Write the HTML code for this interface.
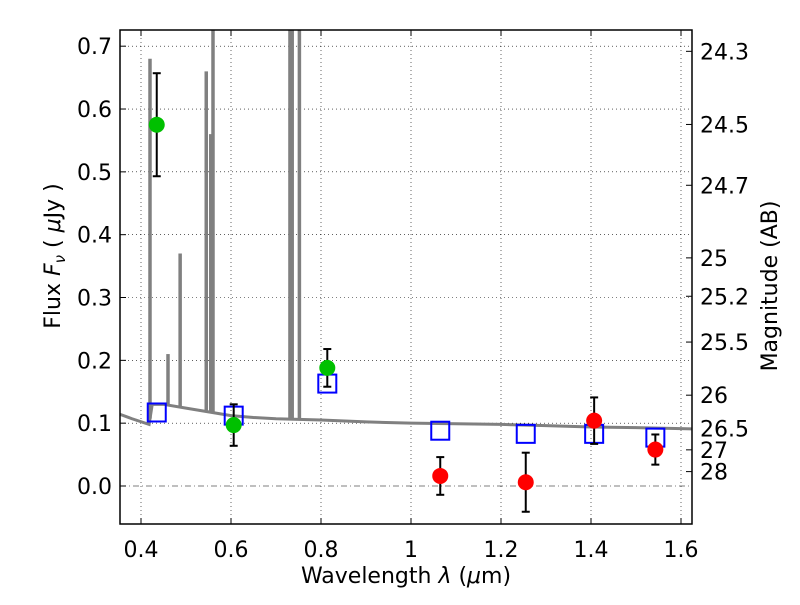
<!DOCTYPE html>
<html><head><meta charset="utf-8"><style>
body{margin:0;background:#fff;}
svg text{font-family:"DejaVu Sans","Liberation Sans",sans-serif;}
</style></head><body>
<svg id="c" width="800" height="600" xmlns="http://www.w3.org/2000/svg"></svg>
<script>
const xTicks=[0.4,0.6,0.8,1.0,1.2,1.4,1.6];
const xTickLabels=["0.4","0.6","0.8","1","1.2","1.4","1.6"];
const yTicks=[0,0.1,0.2,0.3,0.4,0.5,0.6,0.7];
const yTickLabels=["0.0","0.1","0.2","0.3","0.4","0.5","0.6","0.7"];
const magTicks=[24.3,24.5,24.7,25,25.2,25.5,26,26.5,27,28];
const greenX=[0.435,0.606,0.814];
const greenY=[0.575,0.097,0.188];
const greenErr=[0.082,0.033,0.030];
const redX=[1.065,1.255,1.407,1.543];
const redY=[0.016,0.006,0.104,0.058];
const redErr=[0.030,0.047,0.037,0.024];
const modelX=[0.435,0.606,0.814,1.065,1.255,1.407,1.543];
const modelY=[0.117,0.112,0.163,0.088,0.083,0.083,0.077];
const contX=[0.35,0.38,0.418,0.425,0.45,0.5,0.55,0.6,0.65,0.7,0.8,0.9,1.0,1.1,1.2,1.3,1.4,1.5,1.625];
const contY=[0.115,0.107,0.098,0.13,0.13,0.124,0.118,0.112,0.109,0.107,0.105,0.102,0.1,0.099,0.098,0.096,0.094,0.093,0.091];
const lineX=[0.42,0.46,0.487,0.545,0.555,0.56,0.731,0.736,0.752];
const lineY=[0.68,0.21,0.37,0.66,0.56,0.8,0.8,0.8,0.8];

const L=120,R=692,T=30,B=524;
const X=v=>411+(v-1.0)*450;
const Y=v=>486-v*628.3;
const s=document.getElementById('c');
function el(t,a,p){const e=document.createElementNS('http://www.w3.org/2000/svg',t);for(const k in a)e.setAttribute(k,a[k]);(p||s).appendChild(e);return e;}
const clip=el('clipPath',{id:'pc'});el('rect',{x:L,y:T,width:R-L,height:B-T},clip);
xTicks.forEach((v,i)=>{const g=el('line',{x1:X(v),x2:X(v),y1:T,y2:B,stroke:'#000','stroke-width':0.6,'stroke-dasharray':'1,3'});

const t=el('text',{x:X(v),y:557,'font-size':22,'text-anchor':'middle'});t.textContent=xTickLabels[i];

el('line',{x1:X(v),x2:X(v),y1:B,y2:B-6,stroke:'#000'});el('line',{x1:X(v),x2:X(v),y1:T,y2:T+6,stroke:'#000'});});
yTicks.forEach((v,i)=>{const g=el('line',{x1:L,x2:R,y1:Y(v),y2:Y(v),stroke:'#000','stroke-width':0.6,'stroke-dasharray':v===0?'6,3,1,3':'1,3'});

const t=el('text',{x:112,y:Y(v)+8,'font-size':22,'text-anchor':'end'});t.textContent=yTickLabels[i];

el('line',{x1:L,x2:L+6,y1:Y(v),y2:Y(v),stroke:'#000'});});
magTicks.forEach(m=>{const f=Math.pow(10,(23.9-m)/2.5);const y=Y(f);
el('line',{x1:R-6,x2:R,y1:y,y2:y,stroke:'#000'});
const t=el('text',{x:700,y:y+8,'font-size':22});t.textContent=String(m);
});
const g=el('g',{'clip-path':'url(#pc)'});
let d='';contX.forEach((v,i)=>{d+=(i?'L':'M')+X(v)+','+Y(contY[i]);});
const sp=el('path',{d:d,fill:'none',stroke:'#808080','stroke-width':3},g);

lineX.forEach((v,i)=>{let b=0;for(let k=0;k<contX.length-1;k++)if(v>=contX[k]&&v<=contX[k+1])b=contY[k]+(contY[k+1]-contY[k])*(v-contX[k])/(contX[k+1]-contX[k]);
const ln=el('line',{x1:X(v),x2:X(v),y1:Y(b),y2:Y(lineY[i]),stroke:'#808080','stroke-width':3.5},g);
});
modelX.forEach((v,i)=>{const r=el('rect',{x:X(v)-9,y:Y(modelY[i])-9,width:18,height:18,fill:'none',stroke:'#0000ff','stroke-width':2},g);
});
function pts(xs,ys,es,col,name){xs.forEach((v,i)=>{const x=X(v),y1=Y(ys[i]+es[i]),y2=Y(ys[i]-es[i]);
el('line',{x1:x,x2:x,y1:y1,y2:y2,stroke:'#000','stroke-width':2},g);
el('line',{x1:x-4,x2:x+4,y1:y1,y2:y1,stroke:'#000','stroke-width':2},g);
el('line',{x1:x-4,x2:x+4,y1:y2,y2:y2,stroke:'#000','stroke-width':2},g);
const c=el('circle',{cx:x,cy:Y(ys[i]),r:8,fill:col},g);
});}
pts(greenX,greenY,greenErr,'#00c000','observed-point-green');
pts(redX,redY,redErr,'#ff0000','observed-point-red');
const fr=el('rect',{x:L,y:T,width:R-L,height:B-T,fill:'none',stroke:'#000','stroke-width':1.5});

const xt=el('text',{x:406,y:583,'font-size':22,'text-anchor':'middle','xml:space':'preserve'});
xt.innerHTML='Wavelength  <tspan font-style="italic">λ</tspan> (<tspan font-style="italic">μ</tspan>m)';

const yt=el('text',{x:0,y:0,'font-size':22,'text-anchor':'middle','xml:space':'preserve',transform:'translate(60,256) rotate(-90)'});
yt.innerHTML='Flux  <tspan font-style="italic">F</tspan><tspan font-style="italic" font-size="15" dy="5">ν</tspan><tspan dy="-5">  ( </tspan><tspan font-style="italic">μ</tspan>Jy )';

const mt=el('text',{x:0,y:0,'font-size':22,'text-anchor':'middle',transform:'translate(777,286) rotate(-90)'});mt.textContent='Magnitude (AB)';

</script>
</body></html>
